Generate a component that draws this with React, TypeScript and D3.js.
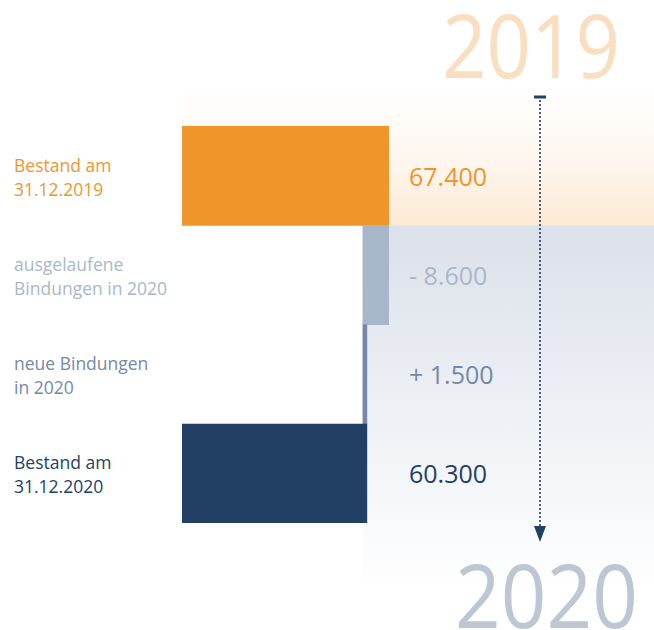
import React from 'react';
import * as d3 from 'd3';

// data
const categories = ['bestand2019', 'ausgelaufen', 'neu', 'bestand2020'];
const labelLines = [
  ['Bestand am', '31.12.2019'],
  ['ausgelaufene', 'Bindungen in 2020'],
  ['neue Bindungen', 'in 2020'],
  ['Bestand am', '31.12.2020'],
];
const values = [67400, -8600, 1500, 60300];
const valueLabels = ['67.400', '- 8.600', '+ 1.500', '60.300'];
const barColors = ['#f0952a', '#a8b6c9', '#7788a8', '#223f66'];
const textColors = ['#ef9530', '#a9b7c9', '#7688a8', '#223f66'];
const yearLabels = ['2019', '2020'];

const W = 654;
const H = 630;
const FONT = "'Open Sans', 'Noto Sans', sans-serif";

export default function App() {
  // waterfall: first and last are totals, middle ones are deltas
  let running = 0;
  const bars = values.map((v, i) => {
    if (i === 0 || i === values.length - 1) {
      running = v;
      return { x0: 0, x1: v };
    }
    const prev = running;
    running = prev + v;
    return { x0: Math.min(prev, running), x1: Math.max(prev, running) };
  });

  const x = d3.scaleLinear().domain([0, values[0]]).range([182, 389]);
  const y = d3.scaleBand().domain(categories).range([126, 523]).paddingInner(0);
  const bw = y.bandwidth();

  const bandSplit = y(categories[1])!;
  const arrowX = 540;
  const arrowTop = 97;
  const arrowTip = 542;

  const valueX = 409;

  return (
    <svg width={W} height={H} style={{ position: 'absolute', left: 0, top: 0 }} fontFamily={FONT}>
      <defs>
        <linearGradient id="gOrange" x1="0" y1="0" x2="0" y2="1">
          <stop offset="0" stopColor="#fdf4ea" stopOpacity="0" />
          <stop offset="1" stopColor="#fce9d4" />
        </linearGradient>
        <linearGradient id="gBlue" x1="0" y1="0" x2="0" y2="1">
          <stop offset="0" stopColor="#dbe1ea" />
          <stop offset="1" stopColor="#ffffff" />
        </linearGradient>
      </defs>

      <rect x={182} y={83} width={W - 182} height={bandSplit - 83} fill="url(#gOrange)" />
      <rect x={x(bars[1].x0)} y={bandSplit} width={W - x(bars[1].x0)} height={593 - bandSplit} fill="url(#gBlue)" />

      <text x={442} y={78} fontSize={88} fill="#f9dfc0" textLength={178} lengthAdjust="spacingAndGlyphs">
        {yearLabels[0]}
      </text>
      <text x={455} y={628} fontSize={88} fill="#bdc7d4" textLength={183} lengthAdjust="spacingAndGlyphs">
        {yearLabels[1]}
      </text>

      {bars.map((b, i) => (
        <rect
          key={categories[i]}
          x={x(b.x0)}
          y={y(categories[i])!}
          width={x(b.x1) - x(b.x0)}
          height={bw + (i < bars.length - 1 ? 0.5 : 0)}
          fill={barColors[i]}
        />
      ))}

      {labelLines.map((lines, i) => (
        <text key={i} x={14} y={y(categories[i])! + bw / 2 - 4} fontSize={17.5} fill={textColors[i]}>
          {lines.map((l, j) => (
            <tspan key={j} x={14} dy={j === 0 ? 0 : 24}>
              {l}
            </tspan>
          ))}
        </text>
      ))}

      {valueLabels.map((l, i) => (
        <text key={i} x={valueX} y={y(categories[i])! + bw / 2 + 10} fontSize={25} fill={textColors[i]}>
          {l}
        </text>
      ))}

      <line x1={arrowX - 6} x2={arrowX + 6} y1={arrowTop} y2={arrowTop} stroke="#223f66" strokeWidth={3} />
      <line
        x1={arrowX}
        x2={arrowX}
        y1={arrowTop + 4}
        y2={arrowTip - 14}
        stroke="#223f66"
        strokeWidth={2.2}
        strokeDasharray="0 4"
        strokeLinecap="round"
      />
      <path
        d={`M${arrowX - 6},${arrowTip - 16} L${arrowX + 6},${arrowTip - 16} L${arrowX},${arrowTip} Z`}
        fill="#223f66"
      />
    </svg>
  );
}
